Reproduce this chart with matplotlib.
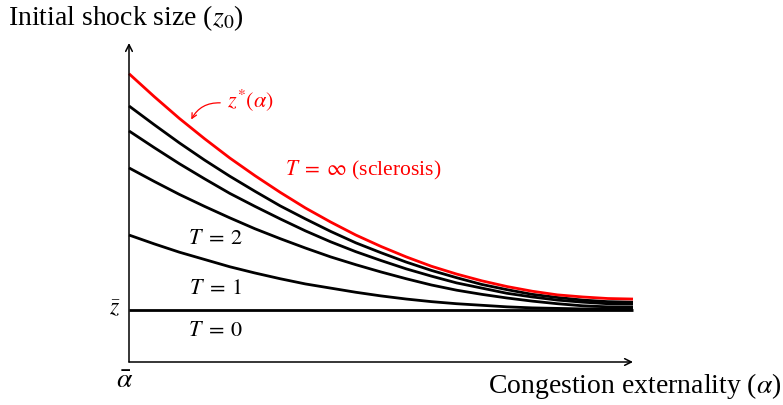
import matplotlib
matplotlib.use("Agg")
import matplotlib.pyplot as plt
from matplotlib.patches import FancyArrowPatch

plt.rcParams['font.family'] = ['Liberation Serif', 'DejaVu Serif']
plt.rcParams['mathtext.fontset'] = 'stix'

# congestion externality (alpha), from alpha-bar (0) to the right end (1)
alpha = [0.00, 0.05, 0.10, 0.15, 0.20, 0.25, 0.30, 0.35, 0.40, 0.45, 0.50,
         0.55, 0.60, 0.65, 0.70, 0.75, 0.80, 0.85, 0.90, 0.95, 1.00]

# initial shock size thresholds, in units of z-bar
z_star = [5.54, 5.10, 4.68, 4.29, 3.92, 3.58, 3.26, 2.96, 2.69, 2.44, 2.22,
          2.02, 1.84, 1.69, 1.56, 1.45, 1.36, 1.29, 1.25, 1.22, 1.21]
z_t5 = [4.92, 4.56, 4.21, 3.88, 3.57, 3.28, 3.00, 2.75, 2.51, 2.29, 2.10,
        1.92, 1.76, 1.62, 1.49, 1.39, 1.30, 1.24, 1.19, 1.16, 1.15]
z_t4 = [4.44, 4.12, 3.81, 3.52, 3.24, 2.99, 2.75, 2.52, 2.31, 2.12, 1.95,
        1.79, 1.65, 1.52, 1.42, 1.32, 1.25, 1.19, 1.15, 1.12, 1.12]
z_t3 = [3.73, 3.47, 3.22, 2.99, 2.77, 2.56, 2.37, 2.19, 2.02, 1.87, 1.73,
        1.60, 1.48, 1.38, 1.30, 1.23, 1.17, 1.12, 1.08, 1.06, 1.06]
z_t2 = [2.44, 2.27, 2.11, 1.97, 1.83, 1.71, 1.60, 1.50, 1.42, 1.34, 1.27,
        1.21, 1.16, 1.12, 1.09, 1.06, 1.04, 1.03, 1.02, 1.02, 1.02]
z_bar = 1.0

W, H = 783, 405


def fpos(px, py):
    # pixel position -> figure fraction
    return px / W, 1 - py / H


fig = plt.figure(figsize=(W / 100, H / 100), dpi=100)
ax = fig.add_axes([129 / W, (H - 362) / H, 504 / W, 319 / H])
ax.set_xlim(0, 1)
ax.set_ylim(0, 6.13)
ax.axis('off')

lw = 2.0
for z in [z_t5, z_t4, z_t3, z_t2]:
    ax.plot(alpha, z, color='black', lw=lw, solid_capstyle='butt', clip_on=False)
ax.plot([alpha[0], alpha[-1]], [z_bar, z_bar], color='black', lw=lw,
        solid_capstyle='butt', clip_on=False)
ax.plot(alpha, z_star, color='#ff0000', lw=lw, solid_capstyle='butt', clip_on=False)

# axes with arrow heads
arrow = dict(arrowstyle='->', lw=1.1, color='black', shrinkA=0, shrinkB=0,
             mutation_scale=12)
ax.annotate('', xy=(1, 0), xytext=(0, 0), arrowprops=arrow, annotation_clip=False)
ax.annotate('', xy=(0, 6.13), xytext=(0, 0), arrowprops=arrow, annotation_clip=False)

fs = 16
fig.text(*fpos(8, 18), r'Initial shock size ($z_0$)', fontsize=20, ha='left', va='center')
fig.text(*fpos(782, 386), r'Congestion externality ($\alpha$)', fontsize=20,
         ha='right', va='center')
fig.text(*fpos(115, 310), r'$\bar{z}$', fontsize=fs + 1, ha='center', va='center')
fig.text(*fpos(125, 381), r'$\bar{\alpha}$', fontsize=fs + 4, ha='center', va='center')

fig.text(*fpos(216, 239), r'$T\;=\;2$', fontsize=fs, ha='center', va='center')
fig.text(*fpos(216, 289), r'$T\;=\;1$', fontsize=fs, ha='center', va='center')
fig.text(*fpos(216, 331), r'$T\;=\;0$', fontsize=fs, ha='center', va='center')
fig.text(*fpos(285, 170), r'$T\;=\;\infty$ (sclerosis)', fontsize=15.5, ha='left',
         va='center', color='#ff0000')
fig.text(*fpos(250, 100), r'$z^{*}(\alpha)$', fontsize=fs, ha='center', va='center',
         color='#ff0000')

fig.add_artist(FancyArrowPatch(
    fpos(223, 103), fpos(190, 122), transform=fig.transFigure,
    connectionstyle='arc3,rad=0.35', arrowstyle='->', mutation_scale=9,
    lw=0.9, color='#ff0000'))

fig.savefig('out.png', dpi=100)
